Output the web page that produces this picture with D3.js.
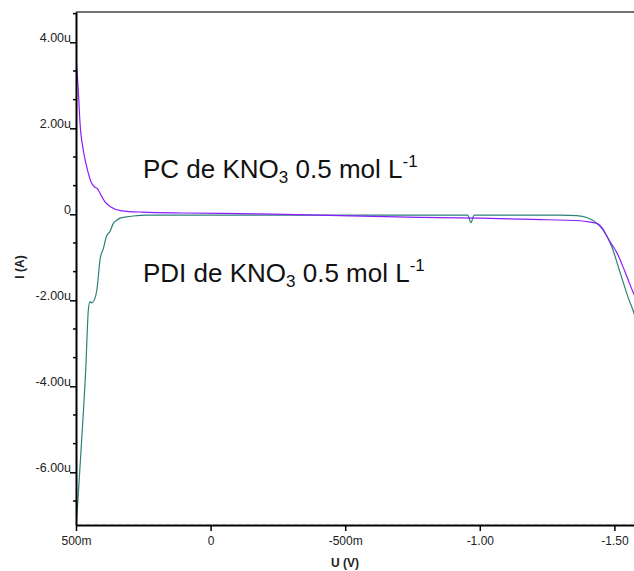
<!DOCTYPE html>
<html><head><meta charset="utf-8">
<script src="https://cdn.jsdelivr.net/npm/d3@7"></script>
<style>body{margin:0;background:#fff}svg{display:block}text{font-family:"Liberation Sans",Arial,sans-serif}</style>
</head><body>
<svg id="c" width="634" height="571"></svg>
<script>
// Voltage (V) and current (µA)
const pcU = [0.5,0.4915,0.4851,0.4729,0.4603,0.4417,0.4294,0.4209,0.4108,0.3923,0.3674,0.3302,0.2511,0.1,-0.1835,-0.4,-0.778,-1.0,-1.2,-1.372,-1.41,-1.435,-1.455,-1.471,-1.49,-1.508,-1.539,-1.570,-1.58];
const pcI = [3.63,2.89,2.12,1.49,1.11,0.72,0.63,0.60,0.49,0.29,0.16,0.08,0.05,0.03,0.01,-0.02,-0.07,-0.09,-0.12,-0.15,-0.18,-0.21,-0.32,-0.50,-0.70,-0.88,-1.33,-1.82,-1.96];
const pdiU = [0.5,0.4974,0.4851,0.4729,0.4629,0.4580,0.4543,0.4480,0.4417,0.4294,0.4209,0.4172,0.4108,0.3986,0.3860,0.3737,0.3614,0.3488,0.3366,0.3117,0.2871,0.2374,0.1880,-0.5,-0.778,-0.955,-0.967,-0.979,-1.2,-1.30,-1.36,-1.40,-1.435,-1.46,-1.49,-1.521,-1.552,-1.573,-1.58];
const pdiI = [-7.2,-7.03,-5.87,-4.63,-3.47,-2.69,-2.23,-2.03,-2.06,-1.95,-1.68,-1.45,-1.06,-0.80,-0.50,-0.40,-0.21,-0.14,-0.09,-0.06,-0.04,-0.02,-0.02,-0.02,-0.02,-0.02,-0.195,-0.02,-0.02,-0.02,-0.03,-0.08,-0.21,-0.38,-0.75,-1.35,-1.95,-2.3,-2.45];
const xTicks = [0.5,0,-0.5,-1.0,-1.5];
const xTickLabels = ["500m","0","-500m","-1.00","-1.50"];
const yTicks = [4,2,0,-2,-4,-6];
const yTickLabels = ["4.00u","2.00u","0","-2.00u","-4.00u","-6.00u"];
const labelPC = ["PC de KNO","3"," 0.5 mol L","-1"];
const labelPDI = ["PDI de KNO","3"," 0.5 mol L","-1"];

const svg = d3.select("#c");
const L = 76, R = 634, T = 12, B = 525;
const x = d3.scaleLinear().domain([0.5, 0.5 - (R - L) / 269.2]).range([L, R]);
const y = d3.scaleLinear().domain([-(B - 214.3) / 43, (214.3 - T) / 43]).range([B, T]);

svg.append("defs").append("clipPath").attr("id","clip")
  .append("rect").attr("x",L).attr("y",T).attr("width",R-L).attr("height",B-T);

// top frame line
svg.append("line").attr("x1",L).attr("x2",R).attr("y1",T).attr("y2",T)
  .attr("stroke","#444").attr("stroke-width",1.5);

// curves
const line = d3.line().x(d=>x(d[0])).y(d=>y(d[1])).curve(d3.curveMonotoneX);
const g = svg.append("g").attr("clip-path","url(#clip)");
g.append("path").datum(pdiU.map((u,i)=>[u,pdiI[i]]))
  .attr("d",line).attr("fill","none").attr("stroke","#2f7f7a").attr("stroke-width",1.2);
g.append("path").datum(pcU.map((u,i)=>[u,pcI[i]]))
  .attr("d",line).attr("fill","none").attr("stroke","#8a1cff").attr("stroke-width",1.2);

// x axis
const xa = svg.append("g").attr("transform",`translate(0,${B})`)
  .call(d3.axisBottom(x).tickValues(xTicks).tickSize(6).tickSizeOuter(0)
    .tickFormat((d,i)=>xTickLabels[i]));
xa.select(".domain").attr("stroke","#000").attr("stroke-width",2);
xa.selectAll(".tick line").attr("stroke","#000").attr("stroke-width",1.5);
xa.selectAll(".tick text").attr("font-size",12).attr("fill","#222").attr("dy","0.9em")
  .attr("font-family","Liberation Sans, Arial, sans-serif");
svg.append("line").attr("x1",L).attr("x2",R).attr("y1",B-1).attr("y2",B-1)
  .attr("stroke","#fff").attr("stroke-width",0.8).attr("stroke-dasharray","1,7");

// y axis
const ya = svg.append("g").attr("transform",`translate(${L},0)`)
  .call(d3.axisLeft(y).tickValues(yTicks).tickSize(6).tickSizeOuter(0)
    .tickFormat((d,i)=>yTickLabels[i]));
ya.select(".domain").attr("stroke","#000").attr("stroke-width",2);
ya.selectAll(".tick line").attr("stroke","#000").attr("stroke-width",1.5);
ya.selectAll(".tick text").attr("font-size",12.5).attr("fill","#222")
  .attr("x",-5).attr("dy","-0.05em")
  .attr("font-family","Liberation Sans, Arial, sans-serif");
// minor y ticks
const minor = d3.range(-21, 15).map(k=>k*2/3).filter(v=>v>y.domain()[0] && v<y.domain()[1] && Math.abs(v/2-Math.round(v/2))>0.01);
svg.append("g").selectAll("line").data(minor).join("line")
  .attr("x1",L-3).attr("x2",L).attr("y1",d=>y(d)).attr("y2",d=>y(d))
  .attr("stroke","#000").attr("stroke-width",1.5);

// axis titles
svg.append("text").attr("x",345).attr("y",567).attr("text-anchor","middle")
  .attr("font-size",12).attr("font-weight","bold").attr("fill","#222").text("U (V)");
svg.append("text").attr("transform","translate(24,267) rotate(-90)").attr("text-anchor","middle")
  .attr("font-size",12).attr("font-weight","bold").attr("fill","#222").text("I (A)");

// annotations
function label(parts, yy){
  const t = svg.append("text").attr("x",143).attr("y",yy).attr("font-size",26).attr("fill","#111");
  t.append("tspan").text(parts[0]);
  t.append("tspan").attr("font-size",17).attr("dy",5).text(parts[1]);
  t.append("tspan").attr("dy",-5).text(parts[2]);
  t.append("tspan").attr("font-size",17).attr("dy",-11).text(parts[3]);
}
label(labelPC, 178);
label(labelPDI, 282);
</script>
</body></html>
